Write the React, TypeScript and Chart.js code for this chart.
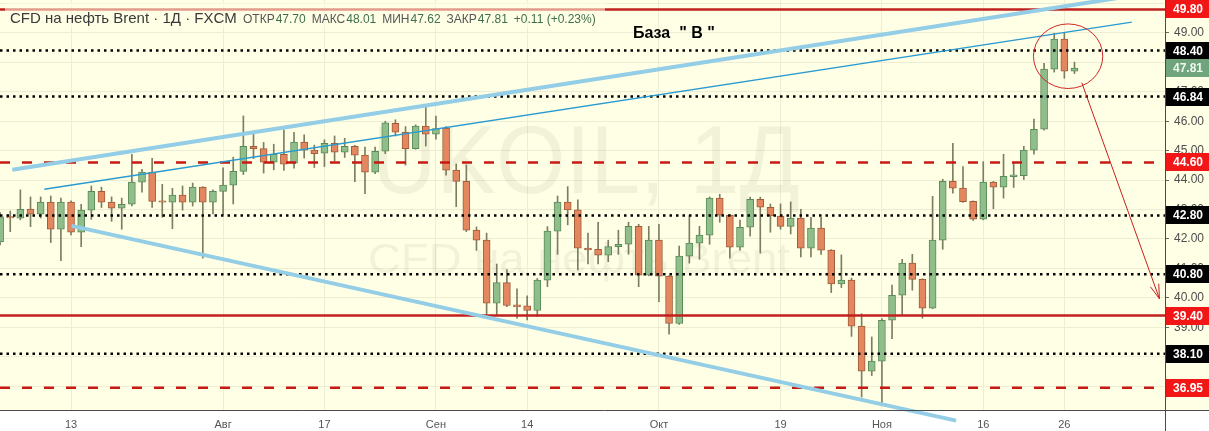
import React, { useEffect, useRef } from "react";
import { Chart, registerables } from "chart.js";

Chart.register(...registerables);

const FONT = "'Liberation Sans', Arial, sans-serif";

// ---- data ----
const dates = [
  "07-02","07-03","07-06","07-07","07-08","07-09","07-10","07-13","07-14","07-15","07-16","07-17","07-20","07-21","07-22","07-23","07-24","07-27","07-28","07-29","07-30","07-31",
  "08-03","08-04","08-05","08-06","08-07","08-10","08-11","08-12","08-13","08-14","08-17","08-18","08-19","08-20","08-21","08-24","08-25","08-26","08-27","08-28","08-31",
  "09-01","09-02","09-03","09-04","09-07","09-08","09-09","09-10","09-11","09-14","09-15","09-16","09-17","09-18","09-21","09-22","09-23","09-24","09-25","09-28","09-29","09-30",
  "10-01","10-02","10-05","10-06","10-07","10-08","10-09","10-12","10-13","10-14","10-15","10-16","10-19","10-20","10-21","10-22","10-23","10-26","10-27","10-28","10-29","10-30",
  "11-02","11-03","11-04","11-05","11-06","11-09","11-10","11-11","11-12","11-13","11-16","11-17","11-18","11-19","11-20","11-23","11-24","11-25","11-26","11-27",
];

const opens = [
  41.90,42.76,42.71,43.02,42.84,43.25,42.33,43.25,42.23,42.98,43.62,43.25,43.05,43.18,43.93,44.27,43.30,43.25,43.49,43.25,43.76,43.25,
  43.62,43.83,44.30,45.15,45.07,44.61,44.88,44.58,45.29,45.02,44.92,45.25,44.95,45.15,44.85,44.27,44.98,45.93,45.63,45.07,45.84,
  45.56,45.77,44.34,43.96,42.30,41.96,39.82,40.52,39.76,39.73,39.57,40.60,42.27,43.25,42.99,41.69,41.65,41.45,41.74,41.82,42.43,40.77,
  41.96,40.74,39.13,41.42,41.86,42.13,43.39,42.81,41.72,42.40,43.35,43.08,42.78,42.43,42.71,41.69,42.37,41.62,40.47,40.60,39.04,37.51,
  37.85,39.24,40.09,41.18,40.63,39.65,41.96,43.96,43.73,43.28,42.67,43.93,43.76,44.12,44.15,45.02,45.73,47.77,48.79,47.70,
];
const highs = [
  42.90,42.95,43.67,43.43,43.43,43.46,43.39,43.30,43.18,43.80,43.76,43.43,43.39,44.88,44.37,44.74,43.86,43.72,43.80,43.90,43.78,43.67,
  44.42,44.78,46.18,45.58,45.28,45.22,45.71,45.62,45.54,45.19,45.37,45.50,45.42,45.18,45.12,45.12,46.00,46.05,45.82,45.88,46.48,
  46.18,45.82,44.55,44.52,42.41,42.20,41.15,40.96,40.31,40.07,40.66,42.42,43.46,43.78,43.33,42.20,42.57,41.96,42.30,42.57,42.50,42.43,
  42.50,40.76,41.76,42.81,42.43,43.43,43.52,42.83,42.64,43.42,43.42,43.19,43.19,43.26,43.01,42.74,42.74,41.64,41.46,40.67,39.46,38.67,
  39.30,40.43,41.31,41.48,40.65,43.45,44.03,45.25,44.46,43.30,44.63,43.96,44.88,44.58,45.15,46.07,47.97,48.99,48.99,48.01,
];
const lows = [
  41.80,42.25,42.65,42.42,42.71,41.88,41.26,42.14,41.74,42.67,43.07,42.60,42.33,43.12,43.59,43.07,42.74,42.35,42.98,43.12,41.35,42.85,
  42.82,43.19,44.19,44.73,44.24,44.35,44.33,44.41,44.75,44.43,44.46,44.65,44.77,43.95,43.54,44.22,44.90,45.50,44.51,45.05,45.16,
  45.39,44.17,43.10,42.25,41.61,39.37,39.40,39.70,39.31,39.25,39.37,40.38,41.48,42.48,40.95,41.15,41.15,41.23,41.48,41.48,40.38,40.75,
  39.87,38.77,39.10,41.18,41.31,41.82,42.57,41.35,41.62,42.10,41.52,42.23,42.33,42.17,41.39,41.39,41.48,40.18,40.35,38.69,36.63,37.36,
  36.36,38.61,39.41,40.26,39.31,39.63,41.65,43.56,43.24,42.63,42.65,43.03,43.39,43.75,44.02,44.88,45.70,47.67,47.46,47.62,
];
const closes = [
  42.75,42.72,43.01,42.84,43.25,42.33,43.25,42.23,42.98,43.62,43.25,43.05,43.18,43.93,44.27,43.28,43.25,43.49,43.25,43.76,43.25,43.62,
  43.83,44.30,45.15,45.07,44.61,44.88,44.54,45.29,45.02,44.90,45.25,44.95,45.15,44.85,44.27,44.98,45.95,45.63,45.07,45.84,45.56,
  45.75,44.34,43.96,42.30,41.96,39.82,40.52,39.74,39.70,39.57,40.60,42.27,43.25,42.99,41.69,41.63,41.45,41.74,41.82,42.43,40.77,41.96,
  40.74,39.13,41.42,41.86,42.13,43.39,42.81,41.72,42.40,43.35,43.08,42.78,42.43,42.71,41.69,42.37,41.62,40.47,40.60,39.04,37.51,37.85,
  39.24,40.09,41.18,40.63,39.65,41.96,43.96,43.73,43.27,42.67,43.93,43.76,44.13,44.18,45.02,45.73,47.77,48.79,47.70,47.81,
];

const tickDates = ["07-13","08-03","08-17","09-01","09-14","10-01","10-19","11-02","11-16","11-26"];
const tickLabels = ["13","Авг","17","Сен","14","Окт","19","Ноя","16","26"];
const priceTicks = [37,38,39,40,41,42,43,44,45,46,47,48,49,50];

const levelPrices = [49.80, 48.40, 46.84, 44.60, 42.80, 40.80, 39.40, 38.10, 36.95];
const levelKinds = ["solid","dotted","dotted","dashed","dotted","dotted","solid","dotted","dashed"];
const lastPrice = 47.81;

// drawings in data coordinates [index, price]
const upperChannel = [[1.2, 44.35], [112.0, 50.28]];
const midTrend = [[4.36, 43.69], [111.65, 49.365]];
const lowerChannel = [[7.06, 42.446], [94.32, 35.83]];
const circleCenter = [105.37, 48.21];
const circleRadius = [3.42, 1.097];
const arrowLine = [[106.72, 47.31], [114.38, 39.97]];

const titleText = "CFD на нефть Brent · 1Д · FXCM";
const ohlcNames = ["ОТКР", "МАКС", "МИН", "ЗАКР"];
const ohlcValues = ["47.70", "48.01", "47.62", "47.81"];
const changeText = "+0.11 (+0.23%)";
const noteText = "База  \" В \"";

const X_MIN = -0.01;
const X_MAX = 114.93;
const Y_MIN = 36.19;
const Y_MAX = 50.12;

export default function App() {
  const ref = useRef<HTMLCanvasElement | null>(null);

  useEffect(() => {
    const canvas = ref.current;
    if (!canvas) return;
    const up = closes.map((c, i) => c >= opens[i]);
    const tickIdx = tickDates.map((d) => dates.indexOf(d));

    const bgPlugin = {
      id: "bg",
      beforeDraw(chart: any) {
        const { ctx, chartArea } = chart;
        ctx.save();
        ctx.fillStyle = "#ffffff";
        ctx.fillRect(0, 0, chart.width, chart.height);
        ctx.fillStyle = "#FFFFE6";
        ctx.fillRect(0, 0, chart.width, chartArea.bottom);
        ctx.restore();
      },
      beforeDatasetsDraw(chart: any) {
        const { ctx } = chart;
        ctx.save();
        ctx.fillStyle = "rgba(110,110,90,0.09)";
        const fit = (text: string, cx: number, base: number, size: number, width: number) => {
          ctx.font = `${size}px ${FONT}`;
          const w = ctx.measureText(text).width;
          ctx.save();
          ctx.translate(cx, base);
          ctx.scale(width / w, 1);
          ctx.textAlign = "center";
          ctx.textBaseline = "alphabetic";
          ctx.fillText(text, 0, 0);
          ctx.restore();
        };
        fit("UKOIL, 1Д", 586, 193, 97, 428);
        fit("CFD на нефть Brent", 579, 273, 42, 422);
        ctx.restore();
      },
      afterDatasetsDraw(chart: any) {
        const { ctx, chartArea } = chart;
        const xs = chart.scales.x;
        const ys = chart.scales.y;
        const P = (p: number[]) => [xs.getPixelForValue(p[0]), ys.getPixelForValue(p[1])];
        ctx.save();
        ctx.beginPath();
        ctx.rect(0, 0, chartArea.right, chart.height);
        ctx.clip();

        levelPrices.forEach((price, i) => {
          const y = ys.getPixelForValue(price);
          const kind = levelKinds[i];
          ctx.beginPath();
          if (kind === "solid") {
            ctx.strokeStyle = "#C0201E";
            ctx.lineWidth = 2.5;
            ctx.setLineDash([]);
          } else if (kind === "dashed") {
            ctx.strokeStyle = "#C81A14";
            ctx.lineWidth = 2.5;
            ctx.setLineDash([10, 12]);
          } else {
            ctx.strokeStyle = "#000000";
            ctx.lineWidth = 2.5;
            ctx.setLineDash([2.5, 4]);
          }
          ctx.moveTo(chartArea.left, y);
          ctx.lineTo(chartArea.right, y);
          ctx.stroke();
        });
        ctx.setLineDash([]);

        const seg = (pts: number[][], color: string, w: number) => {
          const a = P(pts[0]);
          const b = P(pts[1]);
          ctx.beginPath();
          ctx.strokeStyle = color;
          ctx.lineWidth = w;
          ctx.moveTo(a[0], a[1]);
          ctx.lineTo(b[0], b[1]);
          ctx.stroke();
        };
        seg(upperChannel, "#93CDE6", 4);
        seg(lowerChannel, "#93CDE6", 4);
        seg(midTrend, "#2A9AD0", 1.3);

        const c = P(circleCenter);
        const rx = xs.getPixelForValue(circleCenter[0] + circleRadius[0]) - c[0];
        const ry = ys.getPixelForValue(circleCenter[1] - circleRadius[1]) - c[1];
        ctx.beginPath();
        ctx.strokeStyle = "#D02828";
        ctx.lineWidth = 1;
        ctx.ellipse(c[0], c[1], rx, ry, 0, 0, Math.PI * 2);
        ctx.stroke();

        const a0 = P(arrowLine[0]);
        const a1 = P(arrowLine[1]);
        ctx.beginPath();
        ctx.strokeStyle = "#C62020";
        ctx.lineWidth = 1;
        ctx.moveTo(a0[0], a0[1]);
        ctx.lineTo(a1[0], a1[1]);
        const th = Math.atan2(a1[1] - a0[1], a1[0] - a0[0]);
        const L = 15;
        for (const s of [-0.3, 0.3]) {
          ctx.moveTo(a1[0], a1[1]);
          ctx.lineTo(a1[0] - L * Math.cos(th + s), a1[1] - L * Math.sin(th + s));
        }
        ctx.stroke();
        ctx.restore();
      },
      afterDraw(chart: any) {
        const { ctx, chartArea } = chart;
        const ys = chart.scales.y;
        ctx.save();
        ctx.strokeStyle = "#4a4a4a";
        ctx.lineWidth = 1;
        ctx.beginPath();
        ctx.moveTo(0, chartArea.bottom + 0.5);
        ctx.lineTo(chart.width, chartArea.bottom + 0.5);
        ctx.moveTo(chartArea.right + 0.5, 0);
        ctx.lineTo(chartArea.right + 0.5, chart.height);
        ctx.stroke();

        // price tick labels (through the y scale)
        ctx.font = `12px ${FONT}`;
        ctx.fillStyle = "#4d4d4d";
        ctx.textAlign = "left";
        ctx.textBaseline = "middle";
        ys.ticks.forEach((t: any) => {
          const y = ys.getPixelForValue(t.value);
          ctx.fillText(Number(t.value).toFixed(2), chartArea.right + 9, y);
        });

        const box = (price: number, bg: string, fg: string) => {
          const y = Math.round(ys.getPixelForValue(price));
          ctx.fillStyle = bg;
          ctx.fillRect(chartArea.right + 1, y - 9, chart.width - chartArea.right - 1, 18);
          ctx.fillStyle = fg;
          ctx.font = `bold 12px ${FONT}`;
          ctx.textAlign = "left";
          ctx.textBaseline = "middle";
          ctx.fillText(price.toFixed(2), chartArea.right + 8, y + 1);
        };
        levelPrices.forEach((p, i) => box(p, levelKinds[i] === "dotted" ? "#000000" : "#F21616", "#ffffff"));
        box(lastPrice, "#6FA47C", "#EEF8EE");

        ctx.fillStyle = "rgba(255,255,230,0.55)";
        ctx.fillRect(5, 2, 600, 26);
        ctx.textBaseline = "alphabetic";
        ctx.textAlign = "left";
        ctx.font = `15px ${FONT}`;
        ctx.fillStyle = "#3a3a3a";
        ctx.fillText(titleText, 10, 23);
        let x = 243;
        ctx.font = `12px ${FONT}`;
        ohlcNames.forEach((n, i) => {
          ctx.fillStyle = "#555555";
          ctx.fillText(n, x, 23);
          x += ctx.measureText(n).width + 1;
          ctx.fillStyle = "#3f6e4c";
          ctx.fillText(ohlcValues[i], x, 23);
          x += ctx.measureText(ohlcValues[i]).width + 6;
        });
        ctx.fillStyle = "#3f6e4c";
        ctx.fillText(changeText, x, 23);

        ctx.font = `bold 16px ${FONT}`;
        ctx.fillStyle = "#000000";
        ctx.fillText(noteText, 633, 38);
        ctx.restore();
      },
    };

    const chart = new Chart(canvas, {
      type: "bar",
      data: {
        datasets: [
          {
            data: opens.map((o, i) => ({ x: i, y: [o, closes[i]] })) as any,
            backgroundColor: up.map((u) => (u ? "#8FBE8B" : "#E4875F")),
            borderColor: up.map((u) => (u ? "#5A8A57" : "#9E5C3B")),
            borderWidth: 1,
            borderSkipped: false,
            barThickness: 7,
            grouped: false,
          } as any,
          {
            data: lows.map((l, i) => ({ x: i, y: [l, highs[i]] })) as any,
            backgroundColor: "#7C7E60",
            borderWidth: 0,
            barThickness: 1,
            grouped: false,
          } as any,
        ],
      },
      options: {
        animation: false,
        responsive: false,
        devicePixelRatio: 1,
        layout: { padding: 0 },
        plugins: { legend: { display: false }, tooltip: { enabled: false } },
        scales: {
          x: {
            type: "linear",
            min: X_MIN,
            max: X_MAX,
            offset: false,
            grid: { color: "#EDEDD3", drawTicks: false, offset: false },
            border: { display: false },
            afterBuildTicks: (s: any) => {
              s.ticks = tickIdx.map((v) => ({ value: v }));
            },
            afterFit: (s: any) => {
              s.height = 21;
            },
            ticks: {
              autoSkip: false,
              maxRotation: 0,
              padding: 8,
              color: "#555555",
              font: { size: 11, family: FONT },
              callback: (v: any) => {
                const k = tickIdx.indexOf(Number(v));
                return k >= 0 ? tickLabels[k] : "";
              },
            },
          },
          y: {
            position: "right",
            min: Y_MIN,
            max: Y_MAX,
            grid: { color: "#EDEDD3", tickColor: "#666666", tickLength: 4 },
            border: { display: false },
            afterBuildTicks: (s: any) => {
              s.ticks = priceTicks.map((v) => ({ value: v }));
            },
            afterFit: (s: any) => {
              s.width = 44;
            },
            ticks: { display: false },
          },
        },
      } as any,
      plugins: [bgPlugin],
    });
    return () => chart.destroy();
  }, []);

  return (
    <div style={{ position: "absolute", left: 0, top: 0, width: 1209, height: 431 }}>
      <canvas ref={ref} width={1209} height={431} style={{ display: "block" }} />
    </div>
  );
}
